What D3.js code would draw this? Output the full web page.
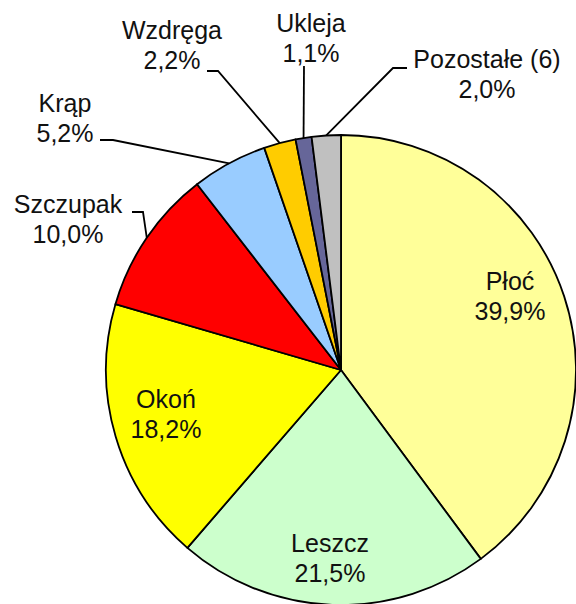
<!DOCTYPE html>
<html>
<head>
<meta charset="utf-8">
<script src="https://cdn.jsdelivr.net/npm/d3@7"></script>
<style>
  html, body { margin: 0; padding: 0; background: #fff; }
  text { font-family: "Liberation Sans", Arial, sans-serif; fill: #111; }
</style>
</head>
<body>
<div id="chart"></div>
<script>
// data
const species = ["Płoć", "Leszcz", "Okoń", "Szczupak", "Krąp", "Wzdręga", "Ukleja", "Pozostałe (6)"]
const shares = [39.9, 21.5, 18.2, 10.0, 5.2, 2.2, 1.1, 2.0]
const shareLabels = ["39,9%", "21,5%", "18,2%", "10,0%", "5,2%", "2,2%", "1,1%", "2,0%"]
const sliceColors = ["#FFFF99", "#CCFFCC", "#FFFF00", "#FF0000", "#99CCFF", "#FFCC00", "#666699", "#C0C0C0"]

// layout: label anchor (x, first baseline) and optional leader start / knee
const labelAt = [[510, 290], [330, 552], [166, 408], [68, 213], [65, 112], [172, 39], [311, 32], [487, 68]]
const leaderFrom = [null, null, null, [132, 212], [100, 140], [207, 71], [304, 66], [407, 68]]
const leaderKnee = [null, null, null, [143, 212], [113, 140], [218, 71], null, [393, 68]]

const W = 576, H = 604
const cx = 341, cy = 370, r = 235

const svg = d3.select("#chart")
	.append("svg")
	.attr("width", W)
	.attr("height", H)

const rows = species.map((s, i) => ({name: s, value: shares[i], label: shareLabels[i], color: sliceColors[i], i: i}))

const pie = d3.pie()
	.sort(null)
	.value(d => d.value)

const arcs = pie(rows)

const arc = d3.arc().innerRadius(0).outerRadius(r)
const edge = d3.arc().innerRadius(r).outerRadius(r)

const g = svg.append("g")
	.attr("transform", `translate(${cx},${cy})`)

g.selectAll("path.slice")
	.data(arcs)
	.enter().append("path")
	.attr("class", "slice")
	.attr("d", arc)
	.attr("fill", d => d.data.color)
	.attr("stroke", "#000")
	.attr("stroke-width", 1.8)
	.attr("stroke-linejoin", "round")

// leader lines
const line = d3.line()
svg.selectAll("path.leader")
	.data(arcs.filter(d => leaderFrom[d.data.i]))
	.enter().append("path")
	.attr("class", "leader")
	.attr("fill", "none")
	.attr("stroke", "#000")
	.attr("stroke-width", 1.8)
	.attr("d", d => {
		const i = d.data.i
		const e = edge.centroid(d)
		const pts = [leaderFrom[i]]
		if (leaderKnee[i]) pts.push(leaderKnee[i])
		pts.push([cx + e[0], cy + e[1]])
		return line(pts)
	})

// labels
const labels = svg.selectAll("text.lbl")
	.data(rows)
	.enter().append("text")
	.attr("class", "lbl")
	.attr("text-anchor", "middle")
	.attr("font-size", 25)
	.attr("x", d => labelAt[d.i][0])
	.attr("y", d => labelAt[d.i][1])

labels.append("tspan")
	.attr("x", d => labelAt[d.i][0])
	.text(d => d.name)

labels.append("tspan")
	.attr("x", d => labelAt[d.i][0])
	.attr("dy", 30)
	.text(d => d.label)
</script>
</body>
</html>
